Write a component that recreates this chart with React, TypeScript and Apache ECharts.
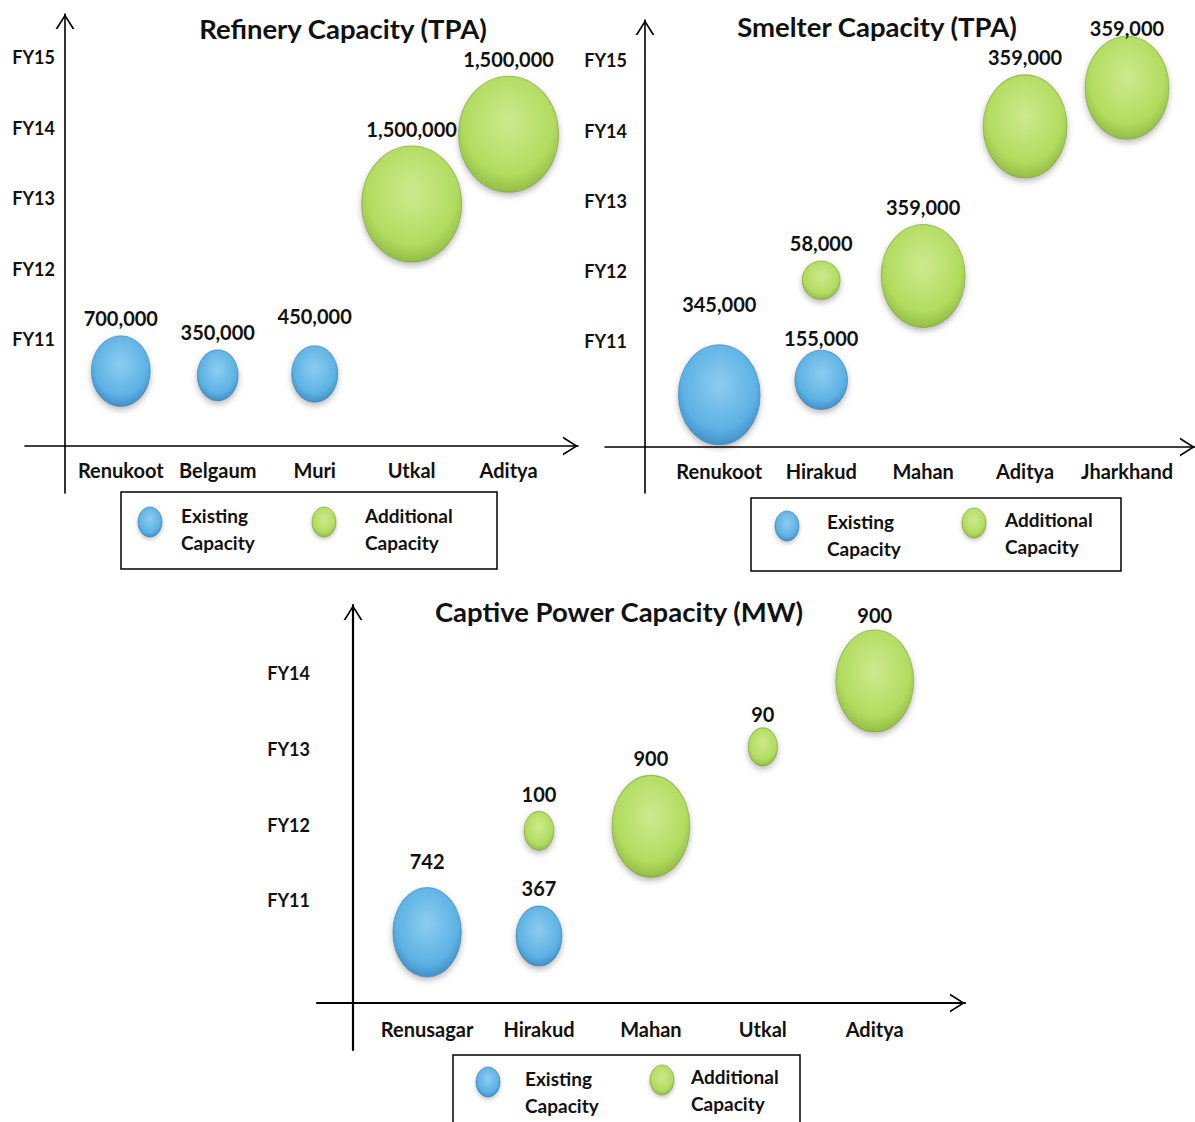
import React, { useEffect, useRef } from 'react';
import * as echarts from 'echarts';

// ---------- DATA ----------
// Refinery Capacity (TPA)
const refinerySites = ['Renukoot', 'Belgaum', 'Muri', 'Utkal', 'Aditya'];
const refineryPlant = ['Renukoot', 'Belgaum', 'Muri', 'Utkal', 'Aditya'];
const refineryTPA = [700000, 350000, 450000, 1500000, 1500000];
const refineryFY = [10.55, 10.49, 10.51, 12.92, 13.91];
const refineryKind = ['Existing', 'Existing', 'Existing', 'Additional', 'Additional'];
const refineryFYTicks = [11, 12, 13, 14, 15];

// Smelter Capacity (TPA)
const smelterSites = ['Renukoot', 'Hirakud', 'Mahan', 'Aditya', 'Jharkhand'];
const smelterPlant = ['Renukoot', 'Hirakud', 'Hirakud', 'Mahan', 'Aditya', 'Jharkhand'];
const smelterTPA = [345000, 155000, 58000, 359000, 359000, 359000];
const smelterFY = [10.24, 10.45, 11.87, 11.93, 14.06, 14.61];
const smelterKind = ['Existing', 'Existing', 'Additional', 'Additional', 'Additional', 'Additional'];
const smelterFYTicks = [11, 12, 13, 14, 15];

// Captive Power Capacity (MW)
const powerSites = ['Renusagar', 'Hirakud', 'Mahan', 'Utkal', 'Aditya'];
const powerPlant = ['Renusagar', 'Hirakud', 'Hirakud', 'Mahan', 'Utkal', 'Aditya'];
const powerMW = [742, 367, 100, 900, 90, 900];
const powerFY = [10.58, 10.53, 11.92, 11.98, 13.03, 13.9];
const powerKind = ['Existing', 'Existing', 'Additional', 'Additional', 'Additional', 'Additional'];
const powerFYTicks = [11, 12, 13, 14];

const kinds = ['Existing', 'Additional'];

// ---------- STYLE / LAYOUT ----------
const FONT = 'Lato, "Open Sans", "Noto Sans", sans-serif';
const ELLIPSE = 'path://M0,50 A50,50 0 1,1 100,50 A50,50 0 1,1 0,50 Z';
const ARROW = 'path://M0,150 L95,0 L190,150 L170,150 L95,30 L20,150 Z';

const fills: Record<string, () => any> = {
  Existing: () =>
    new echarts.graphic.RadialGradient(0.5, 0.4, 0.62, [
      { offset: 0, color: '#8ccdf0' },
      { offset: 0.72, color: '#5db2e4' },
      { offset: 1, color: '#3e8cc4' },
    ]),
  Additional: () =>
    new echarts.graphic.RadialGradient(0.5, 0.4, 0.62, [
      { offset: 0, color: '#cdea8e' },
      { offset: 0.72, color: '#b2dc5f' },
      { offset: 1, color: '#8fb942' },
    ]),
};
const borders: Record<string, string> = {
  Existing: 'rgba(55,115,160,0.55)',
  Additional: 'rgba(115,145,50,0.55)',
};

// label nudges (px, vertical) where the reference places a value label off its usual spot
const labelNudge: Record<string, number> = {
  'refinery|Muri|Existing': -12,
  'smelter|Renukoot|Existing': -23,
  'smelter|Hirakud|Existing': 5,
  'smelter|Jharkhand|Additional': 9,
  'power|Renusagar|Existing': -9,
  'power|Utkal|Additional': 4,
  'power|Aditya|Additional': 3,
};

const charts = [
  {
    key: 'refinery',
    title: 'Refinery Capacity (TPA)',
    sites: refinerySites,
    plant: refineryPlant,
    cap: refineryTPA,
    fy: refineryFY,
    kind: refineryKind,
    fyTicks: refineryFYTicks,
    titlePos: [343, 28],
    grid: { left: 25, top: 14, width: 553, height: 479 },
    yOffset: -40,
    xOffset: -47,
    xRange: [0.012, 5.716],
    yRange: [8.821, 15.616],
    yMargin: 10,
    xMargin: 14,
    lw: 1.6,
    size: { wa: 23, wb: 77, ha: 31, hb: 85 },
    legend: { x: 121, y: 492, w: 376, h: 77, e1: [150, 522], t1: [181, 501.5], e2: [324, 522], t2: [365, 501.5] },
  },
  {
    key: 'smelter',
    title: 'Smelter Capacity (TPA)',
    sites: smelterSites,
    plant: smelterPlant,
    cap: smelterTPA,
    fy: smelterFY,
    kind: smelterKind,
    fyTicks: smelterFYTicks,
    titlePos: [877, 26],
    grid: { left: 605, top: 20, width: 595, height: 473 },
    yOffset: -40,
    xOffset: -46,
    xRange: [-0.121, 5.667],
    yRange: [8.841, 15.574],
    yMargin: 18,
    xMargin: 14,
    lw: 1.6,
    size: { wa: 29, wb: 55, ha: 26, hb: 77 },
    legend: { x: 751, y: 498, w: 370, h: 73, e1: [787, 526], t1: [827, 507.5], e2: [974, 523], t2: [1005, 505.5] },
  },
  {
    key: 'power',
    title: 'Captive Power Capacity (MW)',
    sites: powerSites,
    plant: powerPlant,
    cap: powerMW,
    fy: powerFY,
    kind: powerKind,
    fyTicks: powerFYTicks,
    titlePos: [619, 611],
    grid: { left: 317, top: 605, width: 648, height: 445 },
    yOffset: -36,
    xOffset: -47,
    xRange: [0.016, 5.807],
    yRange: [9.024, 14.905],
    yMargin: 43,
    xMargin: 16,
    lw: 2.2,
    size: { wa: 24, wb: 54, ha: 31, hb: 71 },
    legend: { x: 453, y: 1055, w: 347, h: 80, e1: [488, 1082], t1: [525, 1064.5], e2: [662, 1080], t2: [691, 1062.5] },
  },
];

function buildOption() {
  const grid: any[] = [];
  const xAxis: any[] = [];
  const yAxis: any[] = [];
  const series: any[] = [];
  const graphic: any[] = [];

  charts.forEach((c, ci) => {
    const maxCap = Math.max(...c.cap);
    grid.push({ ...c.grid, containLabel: false });
    xAxis.push({
      type: 'value',
      gridIndex: ci,
      min: c.xRange[0],
      max: c.xRange[1],
      position: 'bottom',
      offset: c.xOffset,
      splitLine: { show: false },
      axisTick: { show: false },
      axisLine: {
        show: true,
        onZero: false,
        symbol: ['none', ARROW],
        symbolSize: [19, 15],
        symbolOffset: [0, -7.5],
        lineStyle: { color: '#000', width: c.lw },
      },
      axisLabel: {
        customValues: c.sites.map((_, i) => i + 1),
        formatter: (v: number) => c.sites[Math.round(v) - 1] ?? '',
        margin: c.xMargin,
        color: '#111',
        fontFamily: FONT,
        fontWeight: 'bold',
        fontSize: 20,
        hideOverlap: false,
      },
    });
    yAxis.push({
      type: 'value',
      gridIndex: ci,
      min: c.yRange[0],
      max: c.yRange[1],
      position: 'left',
      offset: c.yOffset,
      splitLine: { show: false },
      axisTick: { show: false },
      axisLine: {
        show: true,
        onZero: false,
        symbol: ['none', ARROW],
        symbolSize: [19, 15],
        symbolOffset: [0, -7.5],
        lineStyle: { color: '#000', width: c.lw },
      },
      axisLabel: {
        customValues: c.fyTicks,
        formatter: (v: number) => 'FY' + Math.round(v),
        margin: c.yMargin,
        color: '#111',
        fontFamily: FONT,
        fontWeight: 'bold',
        fontSize: 18,
        hideOverlap: false,
      },
    });

    kinds.forEach((k) => {
      const data: any[] = [];
      c.plant.forEach((p, i) => {
        if (c.kind[i] !== k) return;
        const nudge = labelNudge[`${c.key}|${p}|${k}`] || 0;
        data.push({
          value: [c.sites.indexOf(p) + 1, c.fy[i], c.cap[i]],
          label: { offset: [0, nudge] },
        });
      });
      series.push({
        type: 'scatter',
        name: k + ' Capacity',
        xAxisIndex: ci,
        yAxisIndex: ci,
        symbol: ELLIPSE,
        symbolSize: (val: number[]) => {
          const r = val[2] / maxCap;
          return [c.size.wa + c.size.wb * r, c.size.ha + c.size.hb * r];
        },
        itemStyle: {
          color: fills[k](),
          borderColor: borders[k],
          borderWidth: 1,
          shadowBlur: 6,
          shadowColor: 'rgba(0,0,0,0.28)',
          shadowOffsetY: 3,
          opacity: 1,
        },
        label: {
          show: true,
          position: 'top',
          distance: 7,
          formatter: (pr: any) => Number(pr.value[2]).toLocaleString('en-US'),
          color: '#111',
          fontFamily: FONT,
          fontWeight: 'bold',
          fontSize: 20,
        },
        emphasis: { disabled: true },
        data,
      });
    });

    // title
    graphic.push({
      type: 'text',
      x: c.titlePos[0],
      y: c.titlePos[1],
      style: {
        text: c.title,
        fill: '#111',
        font: `bold 27.5px ${FONT}`,
        align: 'center',
        verticalAlign: 'middle',
      },
    });

    // legend box
    const L = c.legend;
    graphic.push({
      type: 'group',
      children: [
        {
          type: 'rect',
          shape: { x: L.x, y: L.y, width: L.w, height: L.h },
          style: { fill: '#fff', stroke: '#000', lineWidth: 1.5 },
        },
        {
          type: 'ellipse',
          shape: { cx: L.e1[0], cy: L.e1[1], rx: 12, ry: 15 },
          style: { fill: fills.Existing(), stroke: borders.Existing, lineWidth: 1, shadowBlur: 4, shadowColor: 'rgba(0,0,0,0.25)', shadowOffsetY: 2 },
        },
        {
          type: 'text',
          x: L.t1[0],
          y: L.t1[1],
          style: { text: 'Existing\nCapacity', fill: '#111', font: `bold 19px ${FONT}`, lineHeight: 27, align: 'left', verticalAlign: 'top' },
        },
        {
          type: 'ellipse',
          shape: { cx: L.e2[0], cy: L.e2[1], rx: 12, ry: 15 },
          style: { fill: fills.Additional(), stroke: borders.Additional, lineWidth: 1, shadowBlur: 4, shadowColor: 'rgba(0,0,0,0.25)', shadowOffsetY: 2 },
        },
        {
          type: 'text',
          x: L.t2[0],
          y: L.t2[1],
          style: { text: 'Additional\nCapacity', fill: '#111', font: `bold 19px ${FONT}`, lineHeight: 27, align: 'left', verticalAlign: 'top' },
        },
      ],
    });
  });

  return {
    animation: false,
    backgroundColor: '#ffffff',
    grid,
    xAxis,
    yAxis,
    series,
    graphic,
  };
}

export default function App() {
  const ref = useRef<HTMLDivElement>(null);
  useEffect(() => {
    if (!ref.current) return;
    const chart = echarts.init(ref.current, undefined, { renderer: 'svg', width: 1195, height: 1122 });
    chart.setOption(buildOption());
    return () => chart.dispose();
  }, []);
  return (
    <div
      ref={ref}
      style={{ position: 'absolute', left: 0, top: 0, width: 1195, height: 1122, background: '#fff' }}
    />
  );
}
